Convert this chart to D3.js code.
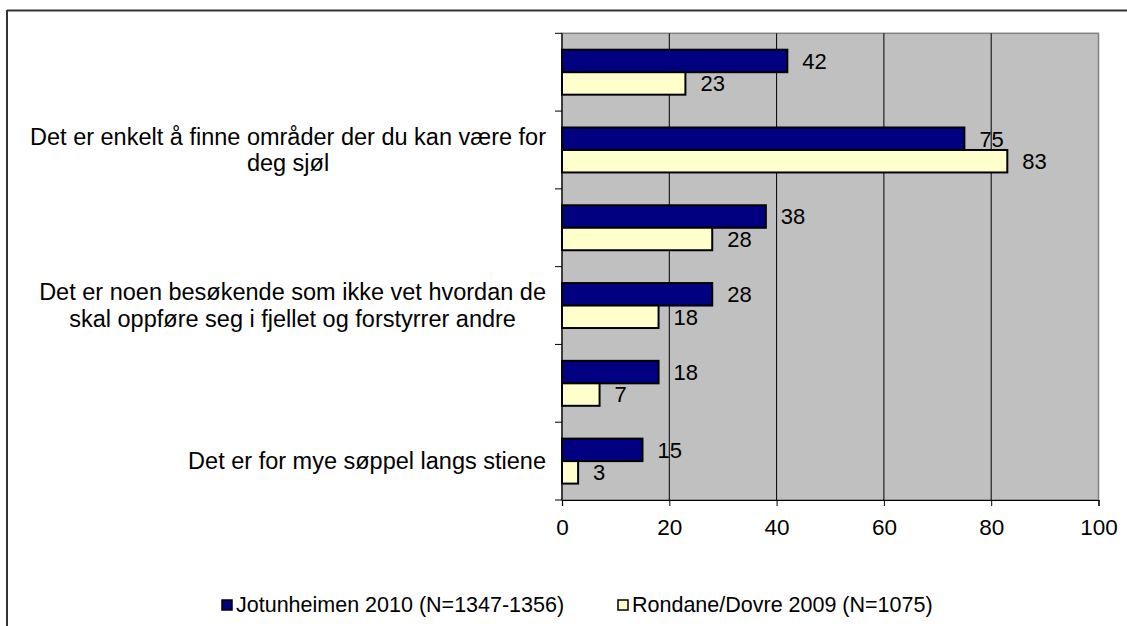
<!DOCTYPE html>
<html><head><meta charset="utf-8">
<script src="https://cdn.jsdelivr.net/npm/d3@7"></script>
<style>
html,body{margin:0;padding:0;background:#fff;}
svg{display:block;font-family:"Liberation Sans",Arial,sans-serif;}
</style></head>
<body><svg id="c" width="1127" height="626"></svg>
<script>
const categories = [
  "",
  "Det er enkelt å finne områder der du kan være for\ndeg sjøl",
  "",
  "Det er noen besøkende som ikke vet hvordan de\nskal oppføre seg i fjellet og forstyrrer andre",
  "",
  "Det er for mye søppel langs stiene"
];
const seriesNames = ["Jotunheimen 2010 (N=1347-1356)", "Rondane/Dovre 2009 (N=1075)"];
const jotunheimen = [42, 75, 38, 28, 18, 15];
const rondane = [23, 83, 28, 18, 7, 3];
const xTicks = [0, 20, 40, 60, 80, 100];
const colors = ["#000080", "#FFFFCC"];

const svg = d3.select("#c");
const L = 562, R = 1098.5, T = 33.3, B = 500;

// outer chart border (top and left)
svg.append("line").attr("x1",7).attr("x2",1127).attr("y1",10.5).attr("y2",10.5).attr("stroke","#333").attr("stroke-width",2);
svg.append("line").attr("x1",7).attr("x2",7).attr("y1",10).attr("y2",626).attr("stroke","#333").attr("stroke-width",2);

const x = d3.scaleLinear().domain([0,100]).range([L,R]);
const y = d3.scaleBand().domain(d3.range(categories.length)).range([T,B]).paddingInner(0).paddingOuter(0);
const ys = d3.scaleBand().domain([0,1]).range([0,y.bandwidth()]).paddingInner(0).paddingOuter(0.73);

// plot area
svg.append("rect").attr("x",L).attr("y",T).attr("width",R-L).attr("height",B-T)
  .attr("fill","#C0C0C0").attr("stroke","#808080").attr("stroke-width",1.5);

// gridlines
svg.append("g").selectAll("line").data(xTicks.filter(d=>d>0&&d<100)).join("line")
  .attr("x1",d=>x(d)).attr("x2",d=>x(d)).attr("y1",T).attr("y2",B)
  .attr("stroke","#000").attr("stroke-width",1);

// bars
const series = [jotunheimen, rondane];
series.forEach((vals, si) => {
  svg.append("g").selectAll("rect").data(vals).join("rect")
    .attr("x", x(0))
    .attr("y", (d,i) => y(i) + ys(si))
    .attr("width", d => x(d) - x(0))
    .attr("height", ys.bandwidth())
    .attr("fill", colors[si]).attr("stroke","#000").attr("stroke-width",2);
  svg.append("g").selectAll("text").data(vals).join("text")
    .attr("x", d => x(d) + 15)
    .attr("y", (d,i) => y(i) + ys(si) + ys.bandwidth()/2 + 2)
    .attr("dominant-baseline","middle")
    .attr("font-size", 22).attr("fill","#000")
    .text(d => d);
});

// x axis
const xAxis = d3.axisBottom(x).tickValues(xTicks).tickSize(6).tickPadding(13).tickFormat(d3.format("d"));
const gx = svg.append("g").attr("transform",`translate(0,${B})`).call(xAxis);
gx.select(".domain").attr("stroke","#000").attr("stroke-width",1.2);
gx.selectAll(".tick line").attr("stroke","#000");
gx.selectAll("text").attr("font-size",22.5).attr("fill","#000").attr("font-family","'Liberation Sans',Arial,sans-serif");

// y axis line and ticks at band boundaries
svg.append("line").attr("x1",L).attr("x2",L).attr("y1",T).attr("y2",B).attr("stroke","#000").attr("stroke-width",1.2);
svg.append("g").selectAll("line").data(d3.range(categories.length+1)).join("line")
  .attr("x1",L-7).attr("x2",L).attr("y1",i=>T+i*y.step()).attr("y2",i=>T+i*y.step())
  .attr("stroke","#000");

// category labels
const lh = 26.5;
categories.forEach((c,i) => {
  if (!c) return;
  const lines = c.split("\n");
  const g = svg.append("g");
  const cy = y(i) + y.bandwidth()/2;
  const t = g.append("text").attr("font-size",23.5).attr("fill","#000").attr("text-anchor","middle");
  lines.forEach((ln,k) => {
    t.append("tspan").attr("x",0).attr("y", cy + (k - (lines.length-1)/2)*lh + 8).text(ln);
  });
  let w = 0;
  t.selectAll("tspan").each(function(){ w = Math.max(w, this.getComputedTextLength()); });
  t.attr("transform",`translate(${546 - w/2},0)`);
});

// legend
const legX = [222, 618];
seriesNames.forEach((n,i) => {
  svg.append("rect").attr("x",legX[i]).attr("y",600).attr("width",10).attr("height",10)
    .attr("fill",colors[i]).attr("stroke","#000").attr("stroke-width",1.5);
  svg.append("text").attr("x",legX[i]+14).attr("y",612).attr("font-size",21.5).attr("fill","#000").text(n);
});
</script></body></html>
